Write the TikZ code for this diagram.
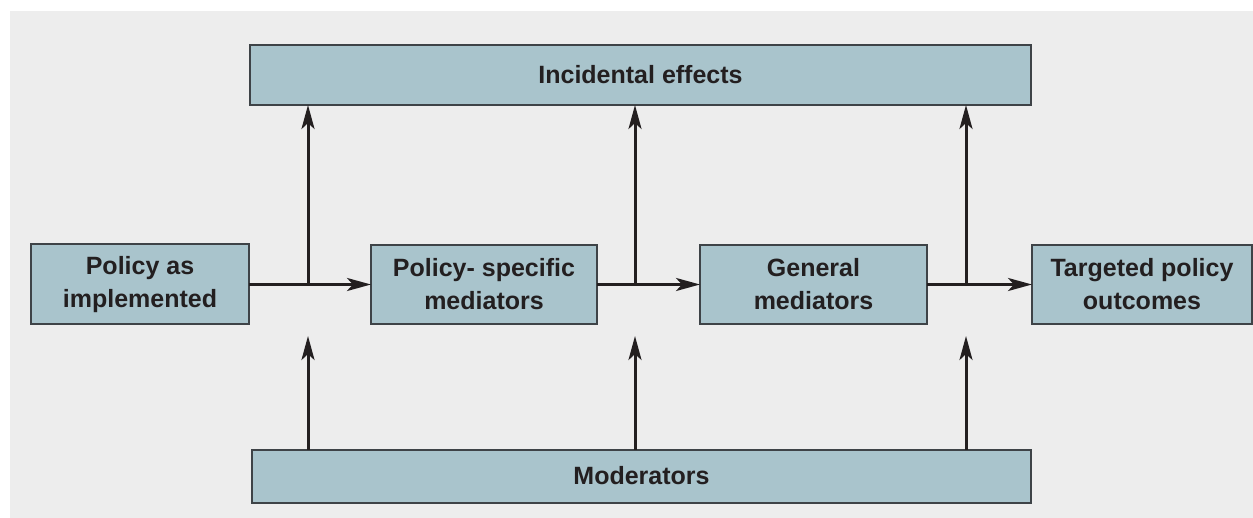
\documentclass[tikz,border=0pt]{standalone}
\usepackage{fontspec}
\setmainfont{Liberation Sans}
\usetikzlibrary{arrows.meta}
\definecolor{panel}{HTML}{EDEDED}
\definecolor{boxfill}{HTML}{A9C4CC}
\definecolor{boxline}{HTML}{3E4347}
\definecolor{ink}{HTML}{231F20}
\tikzset{
  stagebox/.style={draw=boxline, fill=boxfill, line width=2pt, inner sep=0pt, outer sep=0pt,
    align=center, text=ink, font=\fontsize{25}{33}\selectfont\bfseries},
  flow/.style={draw=ink, line width=3pt,
    -{Stealth[length=24pt, width=13pt, inset=6pt]}}
}
\begin{document}
\begin{tikzpicture}[x=1pt, y=-1pt]
  \useasboundingbox (0,0) rectangle (1253,518);
  \fill[panel] (10,11) rectangle (1253,518);

  % stages of the causal chain
  \node[stagebox, minimum width=218pt, minimum height=80pt] (pol) at (140,284.5) {Policy as\\implemented};
  \node[stagebox, minimum width=226pt, minimum height=79pt] (psm) at (484,284.5) {Policy- specific\\mediators};
  \node[stagebox, minimum width=227pt, minimum height=79pt] (gen) at (813.5,284.5) {General\\mediators};
  \node[stagebox, minimum width=220pt, minimum height=79pt] (tgt) at (1142,284.5) {Targeted policy\\outcomes};

  % side effects above, moderating factors below
  \node[stagebox, minimum width=781pt, minimum height=60pt] (inc) at (640.5,75) {Incidental effects};
  \node[stagebox, minimum width=779pt, minimum height=53pt] (mod) at (641.5,476) {Moderators};

  % branch points on the main chain
  \coordinate (j1) at (308,284.5);
  \coordinate (j2) at (635,284.5);
  \coordinate (j3) at (966,284.5);
  % ends of the moderator arrows
  \coordinate (m1) at (308,336);
  \coordinate (m2) at (635,336);
  \coordinate (m3) at (966,336);

  % main chain
  \draw[flow] (pol.east) -- (psm.west);
  \draw[flow] (psm.east) -- (gen.west);
  \draw[flow] (gen.east) -- (tgt.west);

  % branches to incidental effects
  \draw[flow] (j1) -- (j1 |- inc.south);
  \draw[flow] (j2) -- (j2 |- inc.south);
  \draw[flow] (j3) -- (j3 |- inc.south);

  % moderator influences
  \draw[flow] (m1 |- mod.north) -- (m1);
  \draw[flow] (m2 |- mod.north) -- (m2);
  \draw[flow] (m3 |- mod.north) -- (m3);
\end{tikzpicture}
\end{document}
